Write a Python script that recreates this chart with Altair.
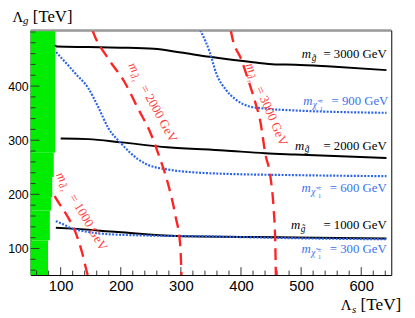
import altair as alt
import pandas as pd

W, H = 367, 249
XDOM = [50, 650]
YDOM = [51, 503]
SERIF = "Liberation Serif"
SANS = "Liberation Sans"
BLUE = "#2b63ea"
BLUE_T = "#3a70f0"
RED = "#ff2424"
RED_T = "#ff3c3c"
GREEN = "#00ec00"

# ---- axis ticks ----
x_tick_major = [100, 200, 300, 400, 500, 600]
x_tick_minor = [60, 80, 120, 140, 160, 180, 220, 240, 260, 280, 320, 340, 360, 380,
                420, 440, 460, 480, 520, 540, 560, 580, 620, 640]
y_tick_major = [100, 200, 300, 400]
y_tick_minor = [60, 80, 120, 140, 160, 180, 220, 240, 260, 280, 320, 340, 360, 380,
                420, 440, 460, 480, 500]

# ---- excluded (green) region, stepped edge ----
green_ylo = [51, 115, 170, 195, 232, 277]
green_yhi = [115, 170, 195, 232, 277, 503]
green_xhi = [79, 82, 84, 86, 88.5, 91]

# ---- gluino mass contours (black) ----
gl3000_x = [91, 93, 146, 200, 255, 300, 348, 375, 420, 457, 490, 550, 642]
gl3000_y = [476, 473, 472, 471, 469, 462, 454, 450, 444, 440, 439.5, 436, 429.5]
gl2000_x = [100, 146, 201, 277, 372, 440, 490, 642]
gl2000_y = [303, 302, 296, 287, 281, 276, 273.6, 267]
gl1000_x = [92, 119, 195, 293, 490, 642]
gl1000_y = [138.5, 136.7, 130.5, 123, 120.4, 118.5]

# ---- chargino mass contours (blue dotted) ----
ch900_x = [332, 334, 348, 359, 375, 391.5, 413, 446, 490, 642]
ch900_y = [503, 499, 462.7, 423, 393, 375, 362.7, 357.8, 355, 350.6]
ch600_x = [92.5, 125, 146, 163, 179, 201, 228, 244, 272, 359, 490, 642]
ch600_y = [462.7, 422.7, 396, 360, 323, 293.5, 265.5, 255, 247, 238.5, 235.5, 233.6]
ch300_x = [92, 105, 119, 195, 359, 490, 642]
ch300_y = [150.6, 144.5, 136.7, 125.5, 122, 119, 117]

# ---- squark mass contours (red dashed) ----
sq1000_x = [90, 92, 111, 125, 135.5, 143.6, 145]
sq1000_y = [197, 193, 160, 129, 93, 56.7, 51]
sq2000_x = [153, 155, 179, 206, 228, 250, 264, 277, 291, 299, 301]
sq2000_y = [503, 497, 451, 408, 360, 312, 270, 226, 160, 105, 51]
sq3000_x = [383, 386, 400, 413, 424, 432, 440.5, 449, 454, 457, 458]
sq3000_y = [503, 487, 450.6, 408, 369, 335.5, 275, 232, 178, 111, 51]

# ---- labels ----
gl_lab_text = ["= 3000 GeV", "= 2000 GeV", "= 1000 GeV"]
gl_lab_mx = [501.2, 489.8, 483.2]
gl_lab_endx = [642.3, 642.3, 642.3]
gl_lab_y = [451, 282.8, 136]

ch_lab_text = ["= 900 GeV", "= 600 GeV", "= 300 GeV"]
ch_lab_mx = [503.4, 500.7, 500.7]
ch_lab_endx = [645.1, 642.3, 642.3]
ch_lab_y = [365.5, 204.5, 91.5]

sq_lab_text = ["= 1000 GeV", "= 2000 GeV", "= 3000 GeV"]
sq_lab_x = [91.9, 211.9, 407.4]
sq_lab_y = [235.6, 438.4, 438.9]
sq_lab_angle = [59.6, 61.5, 66.8]

x_scale = alt.Scale(domain=XDOM, nice=False, zero=False)
y_scale = alt.Scale(domain=YDOM, nice=False, zero=False)
x_axis = alt.Axis(values=x_tick_major, tickSize=0, domain=False, grid=False,
                  labelFont=SANS, labelFontSize=15, labelColor="black",
                  labelPadding=4, format="d")
y_axis = alt.Axis(values=y_tick_major, tickSize=0, domain=False, grid=False,
                  labelFont=SANS, labelFontSize=12.5, labelColor="black",
                  labelPadding=2.5, format="d")


def X(f):
    return alt.X(f, scale=x_scale, axis=x_axis, title=None)


def Y(f):
    return alt.Y(f, scale=y_scale, axis=y_axis, title=None)


layers = []

# green region
gdf = pd.DataFrame({"x0": [XDOM[0]] * len(green_xhi), "x1": green_xhi,
                    "y0": green_ylo, "y1": green_yhi})
layers.append(alt.Chart(gdf).mark_rect(color=GREEN, strokeWidth=0).encode(
    x=X("x0:Q"), x2="x1:Q", y=Y("y0:Q"), y2="y1:Q"))

# ticks (inside)
layers.append(alt.Chart(pd.DataFrame({"x": x_tick_major})).mark_rule(color="#333", strokeWidth=1).encode(
    x=X("x:Q"), y=alt.value(H), y2=alt.value(H - 8)))
layers.append(alt.Chart(pd.DataFrame({"x": x_tick_minor})).mark_rule(color="#333", strokeWidth=1).encode(
    x=X("x:Q"), y=alt.value(H), y2=alt.value(H - 4.5)))
layers.append(alt.Chart(pd.DataFrame({"y": y_tick_major})).mark_rule(color="#333", strokeWidth=1).encode(
    y=Y("y:Q"), x=alt.value(0), x2=alt.value(9)))
layers.append(alt.Chart(pd.DataFrame({"y": y_tick_minor})).mark_rule(color="#333", strokeWidth=1).encode(
    y=Y("y:Q"), x=alt.value(0), x2=alt.value(5)))


def line_layer(xs, ys, color, width, dash=None):
    df = pd.DataFrame({"x": xs, "y": ys, "i": list(range(len(xs)))})
    kw = dict(color=color, strokeWidth=width, clip=True, interpolate="monotone")
    if dash:
        kw["strokeDash"] = dash
        kw["strokeCap"] = "butt"
    return alt.Chart(df).mark_line(**kw).encode(x=X("x:Q"), y=Y("y:Q"), order="i:Q")


for xs, ys in [(gl3000_x, gl3000_y), (gl2000_x, gl2000_y), (gl1000_x, gl1000_y)]:
    layers.append(line_layer(xs, ys, "black", 2))
for xs, ys in [(ch900_x, ch900_y), (ch600_x, ch600_y), (ch300_x, ch300_y)]:
    layers.append(line_layer(xs, ys, BLUE, 2.2, [2, 1.5]))
for xs, ys in [(sq1000_x, sq1000_y), (sq2000_x, sq2000_y), (sq3000_x, sq3000_y)]:
    layers.append(line_layer(xs, ys, RED, 2.4, [12, 7]))


def txt(x, y, text, dx=0, dy=0, size=13, color="black", angle=0, align="left",
        style="normal", font=SERIF):
    df = pd.DataFrame({"x": [x], "y": [y], "t": [text]})
    kw = dict(dx=dx, dy=dy, fontSize=size, color=color, align=align,
              baseline="alphabetic", font=font, fontStyle=style)
    if angle:
        kw["angle"] = angle
    return alt.Chart(df).mark_text(**kw).encode(x=X("x:Q"), y=Y("y:Q"), text="t:N")


def ptxt(px, py, text, size=13, style="normal", font=SERIF):
    df = pd.DataFrame({"t": [text]})
    return alt.Chart(df).mark_text(fontSize=size, color="black", align="left",
                                   baseline="alphabetic", font=font, fontStyle=style).encode(
        x=alt.value(px), y=alt.value(py), text="t:N")


for t, mx, ex, y in zip(gl_lab_text, gl_lab_mx, gl_lab_endx, gl_lab_y):
    layers.append(txt(mx, y, "m", style="italic"))
    layers.append(txt(mx, y, "g\u0303", dx=10, dy=3, size=9.5, style="italic"))
    layers.append(txt(ex, y, t, align="right"))

for t, mx, ex, y in zip(ch_lab_text, ch_lab_mx, ch_lab_endx, ch_lab_y):
    layers.append(txt(mx, y, "m", style="italic", color=BLUE_T))
    layers.append(txt(mx, y, "\u03c7\u0303", dx=9.8, dy=3, size=9.5, style="italic", color=BLUE_T))
    layers.append(txt(mx, y, "\u00b1", dx=16.5, dy=-1.5, size=7, color=BLUE_T))
    layers.append(txt(mx, y, "1", dx=16.8, dy=6.5, size=6.5, color=BLUE_T))
    layers.append(txt(ex, y, t, align="right", color=BLUE_T))

for t, x, y, a in zip(sq_lab_text, sq_lab_x, sq_lab_y, sq_lab_angle):
    layers.append(txt(x, y, "m", style="italic", color=RED_T, angle=a))
    layers.append(txt(x, y, "d\u0303", dx=10, dy=3, size=9.5, style="italic", color=RED_T, angle=a))
    layers.append(txt(x, y, "r", dx=15.5, dy=5, size=7, style="italic", color=RED_T, angle=a))
    layers.append(txt(x, y, t, dx=26, color=RED_T, angle=a))

# top frame edge (grey)
layers.append(alt.Chart(pd.DataFrame({"t": [0]})).mark_rule(color="#9a9a9a", strokeWidth=2).encode(
    x=alt.value(0), x2=alt.value(W), y=alt.value(0)))

# axis titles
layers.append(ptxt(-18.5, -8.5, "\u039b", size=15))
layers.append(ptxt(-7.8, -6.5, "g", size=11, style="italic"))
layers.append(ptxt(2.3, -8.5, "[TeV]", size=17))
layers.append(ptxt(315.7, 284.5, "\u039b", size=15))
layers.append(ptxt(327, 287.5, "s", size=11, style="italic"))
layers.append(ptxt(335.7, 284.5, "[TeV]", size=17.5))

chart = alt.layer(*layers).properties(
    width=W, height=H,
    autosize=alt.AutoSizeParams(type="none"),
    padding={"left": 23, "top": 20, "right": 16, "bottom": 40},
    background="white",
).configure_view(stroke="black", strokeWidth=1)

chart.save("out.html", embed_options={"renderer": "svg", "actions": False})
